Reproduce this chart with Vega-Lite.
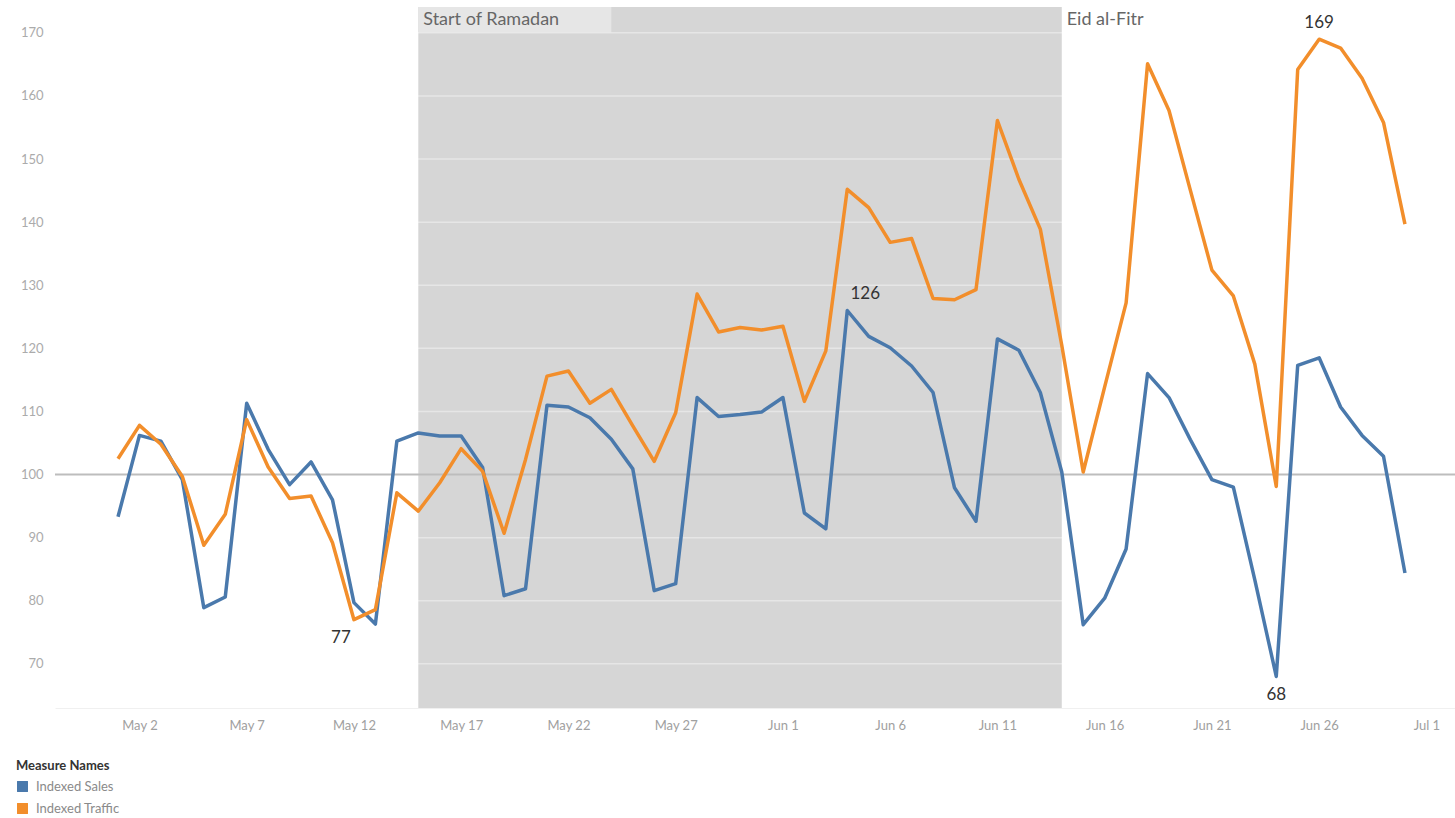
{
  "$schema": "https://vega.github.io/schema/vega-lite/v6.json",
  "width": 1400,
  "height": 701,
  "autosize": "none",
  "padding": {"left": 55, "top": 7, "right": 0, "bottom": 110},
  "background": "#ffffff",
  "config": {
    "view": {"stroke": null},
    "font": "Lato",
    "axis": {"labelFont": "Lato", "titleFont": "Lato"},
    "legend": {"labelFont": "Lato", "titleFont": "Lato"}
  },
  "datasets": {
    "daily": [
      {"date": "2018-05-01T00:00:00", "Indexed Sales": 93.3, "Indexed Traffic": 102.5},
      {"date": "2018-05-02T00:00:00", "Indexed Sales": 106.2, "Indexed Traffic": 107.8},
      {"date": "2018-05-03T00:00:00", "Indexed Sales": 105.3, "Indexed Traffic": 104.8},
      {"date": "2018-05-04T00:00:00", "Indexed Sales": 99.2, "Indexed Traffic": 99.7},
      {"date": "2018-05-05T00:00:00", "Indexed Sales": 78.9, "Indexed Traffic": 88.8},
      {"date": "2018-05-06T00:00:00", "Indexed Sales": 80.6, "Indexed Traffic": 93.7},
      {"date": "2018-05-07T00:00:00", "Indexed Sales": 111.3, "Indexed Traffic": 108.7},
      {"date": "2018-05-08T00:00:00", "Indexed Sales": 104.0, "Indexed Traffic": 101.2},
      {"date": "2018-05-09T00:00:00", "Indexed Sales": 98.4, "Indexed Traffic": 96.2},
      {"date": "2018-05-10T00:00:00", "Indexed Sales": 102.0, "Indexed Traffic": 96.6},
      {"date": "2018-05-11T00:00:00", "Indexed Sales": 96.0, "Indexed Traffic": 89.2},
      {"date": "2018-05-12T00:00:00", "Indexed Sales": 79.7, "Indexed Traffic": 77},
      {"date": "2018-05-13T00:00:00", "Indexed Sales": 76.3, "Indexed Traffic": 78.6},
      {"date": "2018-05-14T00:00:00", "Indexed Sales": 105.3, "Indexed Traffic": 97.1},
      {"date": "2018-05-15T00:00:00", "Indexed Sales": 106.6, "Indexed Traffic": 94.2},
      {"date": "2018-05-16T00:00:00", "Indexed Sales": 106.1, "Indexed Traffic": 98.7},
      {"date": "2018-05-17T00:00:00", "Indexed Sales": 106.1, "Indexed Traffic": 104.1},
      {"date": "2018-05-18T00:00:00", "Indexed Sales": 101.1, "Indexed Traffic": 100.5},
      {"date": "2018-05-19T00:00:00", "Indexed Sales": 80.8, "Indexed Traffic": 90.7},
      {"date": "2018-05-20T00:00:00", "Indexed Sales": 81.9, "Indexed Traffic": 102.4},
      {"date": "2018-05-21T00:00:00", "Indexed Sales": 111.0, "Indexed Traffic": 115.6},
      {"date": "2018-05-22T00:00:00", "Indexed Sales": 110.7, "Indexed Traffic": 116.4},
      {"date": "2018-05-23T00:00:00", "Indexed Sales": 109.0, "Indexed Traffic": 111.3},
      {"date": "2018-05-24T00:00:00", "Indexed Sales": 105.6, "Indexed Traffic": 113.5},
      {"date": "2018-05-25T00:00:00", "Indexed Sales": 100.9, "Indexed Traffic": 107.7},
      {"date": "2018-05-26T00:00:00", "Indexed Sales": 81.6, "Indexed Traffic": 102.1},
      {"date": "2018-05-27T00:00:00", "Indexed Sales": 82.7, "Indexed Traffic": 109.8},
      {"date": "2018-05-28T00:00:00", "Indexed Sales": 112.2, "Indexed Traffic": 128.6},
      {"date": "2018-05-29T00:00:00", "Indexed Sales": 109.2, "Indexed Traffic": 122.6},
      {"date": "2018-05-30T00:00:00", "Indexed Sales": 109.5, "Indexed Traffic": 123.3},
      {"date": "2018-05-31T00:00:00", "Indexed Sales": 109.9, "Indexed Traffic": 122.9},
      {"date": "2018-06-01T00:00:00", "Indexed Sales": 112.2, "Indexed Traffic": 123.5},
      {"date": "2018-06-02T00:00:00", "Indexed Sales": 93.9, "Indexed Traffic": 111.6},
      {"date": "2018-06-03T00:00:00", "Indexed Sales": 91.4, "Indexed Traffic": 119.6},
      {"date": "2018-06-04T00:00:00", "Indexed Sales": 126, "Indexed Traffic": 145.2},
      {"date": "2018-06-05T00:00:00", "Indexed Sales": 121.9, "Indexed Traffic": 142.3},
      {"date": "2018-06-06T00:00:00", "Indexed Sales": 120.1, "Indexed Traffic": 136.8},
      {"date": "2018-06-07T00:00:00", "Indexed Sales": 117.2, "Indexed Traffic": 137.4},
      {"date": "2018-06-08T00:00:00", "Indexed Sales": 113.0, "Indexed Traffic": 127.9},
      {"date": "2018-06-09T00:00:00", "Indexed Sales": 97.9, "Indexed Traffic": 127.7},
      {"date": "2018-06-10T00:00:00", "Indexed Sales": 92.6, "Indexed Traffic": 129.3},
      {"date": "2018-06-11T00:00:00", "Indexed Sales": 121.5, "Indexed Traffic": 156.1},
      {"date": "2018-06-12T00:00:00", "Indexed Sales": 119.7, "Indexed Traffic": 146.8},
      {"date": "2018-06-13T00:00:00", "Indexed Sales": 113.0, "Indexed Traffic": 138.9},
      {"date": "2018-06-14T00:00:00", "Indexed Sales": 100.4, "Indexed Traffic": 120.5},
      {"date": "2018-06-15T00:00:00", "Indexed Sales": 76.2, "Indexed Traffic": 100.4},
      {"date": "2018-06-16T00:00:00", "Indexed Sales": 80.4, "Indexed Traffic": 113.9},
      {"date": "2018-06-17T00:00:00", "Indexed Sales": 88.2, "Indexed Traffic": 127.2},
      {"date": "2018-06-18T00:00:00", "Indexed Sales": 116.0, "Indexed Traffic": 165.1},
      {"date": "2018-06-19T00:00:00", "Indexed Sales": 112.2, "Indexed Traffic": 157.7},
      {"date": "2018-06-20T00:00:00", "Indexed Sales": 105.5, "Indexed Traffic": 145.0},
      {"date": "2018-06-21T00:00:00", "Indexed Sales": 99.2, "Indexed Traffic": 132.4},
      {"date": "2018-06-22T00:00:00", "Indexed Sales": 98.0, "Indexed Traffic": 128.3},
      {"date": "2018-06-23T00:00:00", "Indexed Sales": 83.3, "Indexed Traffic": 117.5},
      {"date": "2018-06-24T00:00:00", "Indexed Sales": 68, "Indexed Traffic": 98.1},
      {"date": "2018-06-25T00:00:00", "Indexed Sales": 117.3, "Indexed Traffic": 164.2},
      {"date": "2018-06-26T00:00:00", "Indexed Sales": 118.5, "Indexed Traffic": 169},
      {"date": "2018-06-27T00:00:00", "Indexed Sales": 110.7, "Indexed Traffic": 167.6},
      {"date": "2018-06-28T00:00:00", "Indexed Sales": 106.2, "Indexed Traffic": 162.8},
      {"date": "2018-06-29T00:00:00", "Indexed Sales": 102.9, "Indexed Traffic": 155.8},
      {"date": "2018-06-30T00:00:00", "Indexed Sales": 84.4, "Indexed Traffic": 139.7}
    ],
    "ramadan": [
      {"start": "2018-05-15T00:00:00", "end": "2018-06-14T00:00:00"}
    ],
    "events": [
      {"date": "2018-05-15T00:00:00", "event": "Start of Ramadan"},
      {"date": "2018-06-14T00:00:00", "event": "Eid al-Fitr"}
    ],
    "gridlines": [
      {"level": 70}, {"level": 80}, {"level": 90}, {"level": 110}, {"level": 120},
      {"level": 130}, {"level": 140}, {"level": 150}, {"level": 160}, {"level": 170}
    ]
  },
  "layer": [
    {
      "data": {"name": "ramadan"},
      "mark": {"type": "rect", "color": "#d6d6d6"},
      "encoding": {
        "x": {
          "field": "start", "type": "temporal",
          "scale": {
            "domain": [
              {"year": 2018, "month": 4, "date": 28, "hours": 1, "minutes": 30},
              {"year": 2018, "month": 7, "date": 2, "hours": 8}
            ]
          },
          "axis": {
            "title": null,
            "values": [
              {"year": 2018, "month": 5, "date": 2},
              {"year": 2018, "month": 5, "date": 7},
              {"year": 2018, "month": 5, "date": 12},
              {"year": 2018, "month": 5, "date": 17},
              {"year": 2018, "month": 5, "date": 22},
              {"year": 2018, "month": 5, "date": 27},
              {"year": 2018, "month": 6, "date": 1},
              {"year": 2018, "month": 6, "date": 6},
              {"year": 2018, "month": 6, "date": 11},
              {"year": 2018, "month": 6, "date": 16},
              {"year": 2018, "month": 6, "date": 21},
              {"year": 2018, "month": 6, "date": 26},
              {"year": 2018, "month": 7, "date": 1}
            ],
            "format": "%b %-d",
            "labelColor": "#a0a0a0",
            "labelFontSize": 13,
            "labelPadding": 11,
            "ticks": false,
            "grid": false,
            "domainColor": "#f0f0f0",
            "labelFlush": false
          }
        },
        "x2": {"field": "end"}
      }
    },
    {
      "data": {"values": [{"note": "box"}]},
      "mark": {"type": "rect", "color": "#e6e6e6"},
      "encoding": {
        "x": {"datum": {"year": 2018, "month": 5, "date": 15}, "type": "temporal"},
        "x2": {"datum": {"year": 2018, "month": 5, "date": 24}},
        "y": {"datum": 170.1, "type": "quantitative"},
        "y2": {"datum": 174.1}
      }
    },
    {
      "data": {"name": "gridlines"},
      "mark": {"type": "rule", "color": "#ffffff", "opacity": 0.4, "strokeWidth": 1.5},
      "encoding": {
        "y": {"field": "level", "type": "quantitative"}
      }
    },
    {
      "data": {"values": [{"level": 100}]},
      "mark": {"type": "rule", "color": "#bdbdbd", "strokeWidth": 2},
      "encoding": {
        "y": {"field": "level", "type": "quantitative"}
      }
    },
    {
      "data": {"name": "daily"},
      "transform": [
        {"fold": ["Indexed Sales", "Indexed Traffic"], "as": ["measure", "value"]}
      ],
      "layer": [
        {
          "mark": {"type": "line", "strokeWidth": 3.5, "strokeJoin": "round"},
          "encoding": {
            "x": {"field": "date", "type": "temporal"},
            "y": {
              "field": "value", "type": "quantitative",
              "scale": {"domain": [63, 174.1], "zero": false, "nice": false},
              "axis": {
                "title": null,
                "values": [70, 80, 90, 100, 110, 120, 130, 140, 150, 160, 170],
                "labelColor": "#ababab",
                "labelFontSize": 13,
                "labelPadding": 12,
                "ticks": false,
                "domain": false,
                "gridColor": "#f1f1f1",
                "gridWidth": 1
              }
            },
            "color": {
              "field": "measure", "type": "nominal",
              "scale": {"domain": ["Indexed Sales", "Indexed Traffic"], "range": ["#4a79ac", "#f28e2b"]},
              "legend": {
                "title": "Measure Names",
                "orient": "none",
                "legendX": -39,
                "legendY": 753,
                "titleFontSize": 13,
                "titleFontWeight": "bold",
                "titleColor": "#333333",
                "titlePadding": 7,
                "labelFontSize": 13,
                "labelColor": "#8a8a8a",
                "labelOffset": 7,
                "symbolType": "square",
                "symbolSize": 120,
                "symbolStrokeWidth": 0,
                "rowPadding": 8,
                "encode": {
                  "symbols": {"update": {"fill": {"scale": "color", "field": "value"}, "fillOpacity": {"value": 1}}}
                }
              }
            }
          }
        },
        {
          "transform": [{"filter": "datum.value === 126"}],
          "mark": {"type": "text", "fontSize": 17, "color": "#333333", "dx": 18, "dy": -16, "baseline": "middle"},
          "encoding": {
            "x": {"field": "date", "type": "temporal"},
            "y": {"field": "value", "type": "quantitative"},
            "text": {"field": "value", "type": "quantitative", "format": ".0f"}
          }
        },
        {
          "transform": [{"filter": "datum.value === 169"}],
          "mark": {"type": "text", "fontSize": 17, "color": "#333333", "dy": -16, "baseline": "middle"},
          "encoding": {
            "x": {"field": "date", "type": "temporal"},
            "y": {"field": "value", "type": "quantitative"},
            "text": {"field": "value", "type": "quantitative", "format": ".0f"}
          }
        },
        {
          "transform": [{"filter": "datum.value === 77"}],
          "mark": {"type": "text", "fontSize": 17, "color": "#333333", "dx": -13, "dy": 18, "baseline": "middle"},
          "encoding": {
            "x": {"field": "date", "type": "temporal"},
            "y": {"field": "value", "type": "quantitative"},
            "text": {"field": "value", "type": "quantitative", "format": ".0f"}
          }
        },
        {
          "transform": [{"filter": "datum.value === 68"}],
          "mark": {"type": "text", "fontSize": 17, "color": "#333333", "dy": 19, "baseline": "middle"},
          "encoding": {
            "x": {"field": "date", "type": "temporal"},
            "y": {"field": "value", "type": "quantitative"},
            "text": {"field": "value", "type": "quantitative", "format": ".0f"}
          }
        }
      ]
    },
    {
      "data": {"name": "events"},
      "mark": {"type": "text", "fontSize": 18, "color": "#666666", "align": "left", "baseline": "middle", "dx": 5},
      "encoding": {
        "x": {"field": "date", "type": "temporal"},
        "y": {"datum": 172, "type": "quantitative"},
        "text": {"field": "event"}
      }
    }
  ]
}
